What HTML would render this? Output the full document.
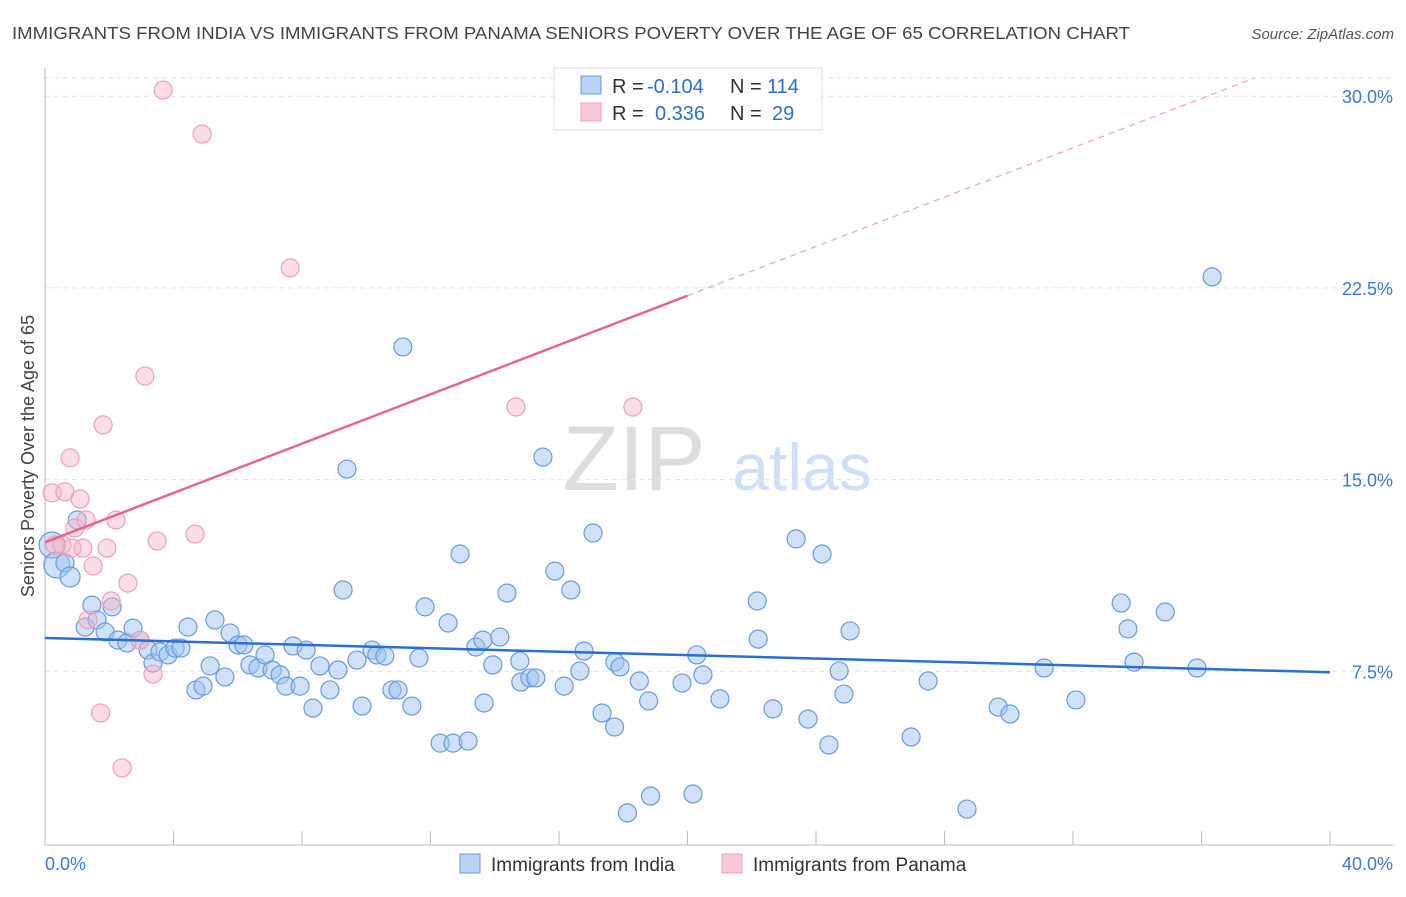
<!DOCTYPE html>
<html><head><meta charset="utf-8"><style>
body{margin:0;background:#fff;font-family:"Liberation Sans",sans-serif}
svg text{font-family:"Liberation Sans",sans-serif}
</style></head><body>
<svg id="chart" width="1406" height="892" viewBox="0 0 1406 892" xmlns="http://www.w3.org/2000/svg">
<text x="12" y="39" font-size="17.5" fill="#444" textLength="1118" lengthAdjust="spacingAndGlyphs">IMMIGRANTS FROM INDIA VS IMMIGRANTS FROM PANAMA SENIORS POVERTY OVER THE AGE OF 65 CORRELATION CHART</text>
<text x="1394" y="39" font-size="15" fill="#555" text-anchor="end" font-style="italic">Source: ZipAtlas.com</text>
<g>
<text x="634" y="490" font-size="92" fill="#ddd" text-anchor="middle" font-family="Liberation Serif,serif">ZIP</text>
<text x="802" y="490" font-size="66" fill="#cfe0f5" text-anchor="middle">atlas</text>
</g>
<g id="grid"></g>
<g id="axes"></g>
<g id="pts"></g>
<g id="lines"></g>
<text transform="translate(34,456) rotate(-90)" font-size="18" fill="#444" text-anchor="middle">Seniors Poverty Over the Age of 65</text>
<g>
<rect x="554" y="68" width="268" height="62" fill="#fff" stroke="#ddd"/>
<rect x="581" y="76" width="20" height="18" fill="#b8d2f4" stroke="#6a9be0"/>
<rect x="581" y="103" width="20" height="18" fill="#f9c8d6" stroke="#f0a0b8"/>
<text x="612" y="93" font-size="20" fill="#333">R =</text>
<text x="647" y="93" font-size="20" fill="#2d6fd0">-0.104</text>
<text x="730" y="93" font-size="20" fill="#333">N =</text>
<text x="767" y="93" font-size="20" fill="#2d6fd0">114</text>
<text x="612" y="120" font-size="20" fill="#333">R =</text>
<text x="655" y="120" font-size="20" fill="#2d6fd0">0.336</text>
<text x="730" y="120" font-size="20" fill="#333">N =</text>
<text x="772" y="120" font-size="20" fill="#2d6fd0">29</text>
</g>
<g>
<rect x="460" y="854" width="20" height="19" fill="#b8d2f4" stroke="#6a9be0"/>
<text x="491" y="871" font-size="19" fill="#333">Immigrants from India</text>
<rect x="722" y="854" width="20" height="19" fill="#f9c8d6" stroke="#f0a0b8"/>
<text x="753" y="871" font-size="19" fill="#333">Immigrants from Panama</text>
</g>
</svg>
<script>
const xTicks=[0,4,8,12,16,20,24,28,32,36,40];
const yTicks=[7.5,15,22.5,30];
const yTickLabels=["7.5%","15.0%","22.5%","30.0%"];
const xLabels=["0.0%","40.0%"];
const indiaX=[0.22,0.37,0.62,0.78,1.0,1.25,1.46,1.62,1.87,2.09,2.27,2.55,2.74,2.96,3.21,3.36,3.58,3.83,4.05,4.23,4.45,4.7,4.92,5.14,5.29,5.6,5.76,6.01,6.19,6.38,6.63,6.85,7.07,7.32,7.5,7.72,7.94,8.13,8.34,8.56,8.87,9.12,9.28,9.4,9.71,9.87,10.18,10.33,10.58,10.8,10.99,11.14,11.42,11.64,11.83,12.3,12.55,12.7,12.92,13.17,13.41,13.63,13.67,13.94,14.16,14.38,14.78,14.81,15.09,15.28,15.5,15.87,16.16,16.37,16.65,16.78,17.06,17.34,17.73,17.74,17.9,18.13,18.5,18.79,18.85,19.83,20.17,20.29,20.48,21.01,22.17,22.2,22.66,23.38,23.75,24.19,24.4,24.72,24.87,25.06,26.96,27.49,28.7,29.67,30.04,31.1,32.09,33.5,33.71,33.9,34.87,35.86,36.33];
const indiaY=[12.44,11.66,11.74,11.19,13.42,9.23,10.09,9.51,9.04,10.02,8.72,8.61,9.19,8.72,8.33,7.82,8.26,8.14,8.41,8.41,9.23,6.77,6.92,7.71,9.51,7.28,9.0,8.53,8.53,7.75,7.63,8.14,7.55,7.36,6.92,8.49,6.92,8.33,6.06,7.71,6.77,7.55,10.68,15.41,7.94,6.14,8.33,8.14,8.10,6.77,6.77,20.19,6.14,8.02,10.02,4.69,9.39,4.69,12.09,4.77,8.45,8.72,6.26,7.75,8.84,10.56,7.90,7.08,7.24,7.24,15.88,11.42,6.92,10.68,7.51,8.29,12.91,5.87,5.32,7.86,7.67,1.96,7.12,6.34,2.62,7.04,2.70,8.14,7.36,6.42,10.25,8.76,6.03,12.68,5.63,12.09,4.62,7.51,6.61,9.08,4.93,7.12,2.11,6.10,5.83,7.63,6.38,10.17,9.16,7.86,9.82,7.63,22.93];
const indiaR=[13,13,9,10,9,9,9,9,9,9,9,9,9,9,9,9,9,9,9,9,9,9,9,9,9,9,9,9,9,9,9,9,9,9,9,9,9,9,9,9,9,9,9,9,9,9,9,9,9,9,9,9,9,9,9,9,9,9,9,9,9,9,9,9,9,9,9,9,9,9,9,9,9,9,9,9,9,9,9,9,9,9,9,9,9,9,9,9,9,9,9,9,9,9,9,9,9,9,9,9,9,9,9,9,9,9,9,9,9,9,9,9,9];
const panamaX=[0.22,0.31,0.53,0.62,0.78,0.93,1.09,1.18,1.28,1.5,1.73,1.81,1.93,2.06,2.21,2.4,2.58,2.96,3.11,3.36,3.49,3.68,4.67,4.89,7.63,14.66,18.3,1.34,0.84];
const panamaY=[14.48,12.44,12.44,14.52,15.85,13.11,14.24,12.32,13.42,11.62,5.87,17.14,12.32,10.25,13.42,3.72,10.95,8.72,19.05,7.39,12.60,30.24,12.87,28.52,23.28,17.84,17.84,9.51,12.32];
function X(v){return 45+v/40*1285}
function Y(v){return 863-v*25.56}
const NS="http://www.w3.org/2000/svg";
function mk(parent,tag,attrs){const e=document.createElementNS(NS,tag);for(const k in attrs)e.setAttribute(k,attrs[k]);document.getElementById(parent).appendChild(e);return e}
let e;
e=mk('grid','line',{x1:45,x2:1393,y1:78,y2:78,stroke:'#e2e2e2','stroke-dasharray':'5,4'});


yTicks.forEach((t,i)=>{
 e=mk('grid','line',{x1:45,x2:1393,y1:Y(t),y2:Y(t),stroke:'#e2e2e2','stroke-dasharray':'5,4'});
 
 
 e=mk('axes','text',{x:1393,y:Y(t)+7,'font-size':18,fill:'#3b78d8','text-anchor':'end'});
 e.textContent=yTickLabels[i];
 
 
});
e=mk('axes','line',{x1:45,x2:45,y1:68,y2:845,stroke:'#bbb'});


e=mk('axes','line',{x1:45,x2:1393,y1:845,y2:845,stroke:'#bbb'});


xTicks.forEach(t=>{
 e=mk('axes','line',{x1:X(t),x2:X(t),y1:831,y2:845,stroke:'#bbb'});
 
 
});
e=mk('axes','text',{x:45,y:870,'font-size':18,fill:'#3b78d8'});e.textContent=xLabels[0];


e=mk('axes','text',{x:1393,y:870,'font-size':18,fill:'#3b78d8','text-anchor':'end'});e.textContent=xLabels[1];


indiaX.forEach((v,i)=>{
 e=mk('pts','circle',{cx:X(v),cy:Y(indiaY[i]),r:indiaR[i],fill:'rgba(160,196,240,0.5)',stroke:'#6a9be0','stroke-width':1.2});
 
 
});
panamaX.forEach((v,i)=>{
 e=mk('pts','circle',{cx:X(v),cy:Y(panamaY[i]),r:9,fill:'rgba(246,180,200,0.45)',stroke:'#f0a0b8','stroke-width':1.2});
 
 
});
function fit(xs,ys){const n=xs.length;let mx=0,my=0;for(let i=0;i<n;i++){mx+=xs[i];my+=ys[i]}mx/=n;my/=n;let sxy=0,sxx=0;for(let i=0;i<n;i++){sxy+=(xs[i]-mx)*(ys[i]-my);sxx+=(xs[i]-mx)**2}const b=sxy/sxx;return [my-b*mx,b]}
const fi=fit(indiaX,indiaY), fp=fit(panamaX,panamaY);
e=mk('lines','line',{x1:X(0),y1:Y(fi[0]),x2:X(40),y2:Y(fi[0]+40*fi[1]),stroke:'#2a6fd6','stroke-width':2.5});


e=mk('lines','line',{x1:X(0),y1:Y(fp[0]),x2:X(20),y2:Y(fp[0]+20*fp[1]),stroke:'#e8648f','stroke-width':2.5});


const xe=Math.min(40,(30.7-fp[0])/fp[1]);
e=mk('lines','line',{x1:X(20),y1:Y(fp[0]+20*fp[1]),x2:X(xe),y2:Y(fp[0]+xe*fp[1]),stroke:'#f0a0b8','stroke-width':1.2,'stroke-dasharray':'6,5'});


</script>
</body></html>
